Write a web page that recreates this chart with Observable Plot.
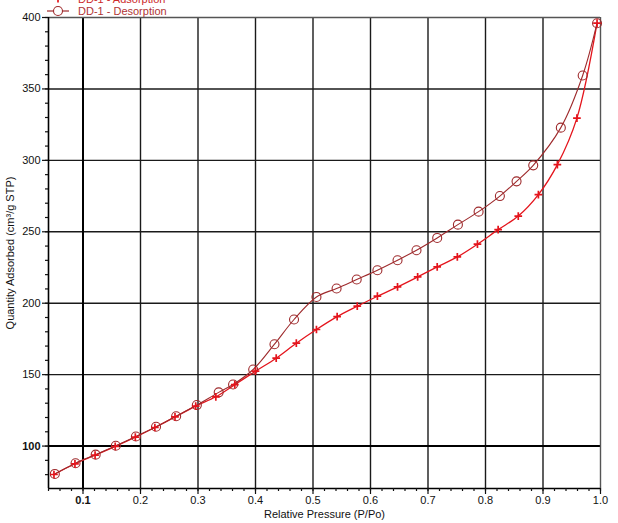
<!DOCTYPE html>
<html>
<head>
<meta charset="utf-8">
<script src="https://cdn.jsdelivr.net/npm/d3@7"></script>
<script src="https://cdn.jsdelivr.net/npm/@observablehq/plot@0.6"></script>
<style>
  html, body { margin: 0; padding: 0; background: white; }
  svg { display: block; }
</style>
</head>
<body>
<div id="chart"></div>
<script>
// Adsorption branch (red "+")
const adsX = [0.0495, 0.086, 0.121, 0.156, 0.191, 0.225, 0.260, 0.296, 0.331, 0.364, 0.400, 0.436, 0.471, 0.506, 0.542, 0.577, 0.612, 0.647, 0.682, 0.716, 0.751, 0.786, 0.822, 0.857, 0.892, 0.925, 0.959, 0.994];
const adsY = [80.1, 87.6, 93.6, 99.8, 106.3, 113.0, 120.4, 128.0, 134.5, 143.0, 152.4, 161.5, 172.0, 181.6, 190.6, 197.9, 204.9, 211.4, 218.4, 225.4, 232.4, 241.3, 251.5, 261.0, 276.0, 297.0, 329.6, 396.0];
// Desorption branch (dark red circles)
const desX = [0.051, 0.087, 0.122, 0.157, 0.192, 0.227, 0.262, 0.298, 0.336, 0.361, 0.396, 0.433, 0.467, 0.506, 0.541, 0.576, 0.612, 0.647, 0.680, 0.716, 0.752, 0.788, 0.825, 0.854, 0.883, 0.931, 0.969, 0.994];
const desY = [80.5, 88.0, 94.0, 100.2, 106.7, 113.5, 120.9, 128.7, 137.6, 143.1, 153.6, 171.3, 188.6, 204.4, 210.3, 216.6, 223.1, 230.1, 237.1, 245.7, 255.0, 264.1, 275.0, 285.3, 296.5, 322.9, 359.4, 396.0];

const xTicks = [0.1, 0.2, 0.3, 0.4, 0.5, 0.6, 0.7, 0.8, 0.9, 1.0];
const yTicks = [100, 150, 200, 250, 300, 350, 400];
const xMinor = d3.range(4, 101, 2).map(d => d / 100);
const yMinor = d3.range(80, 401, 10);
const seriesNames = ["DD-1 - Adsorption", "DD-1 - Desorption"];
const xTitle = "Relative Pressure (P/Po)";
const yTitle = "Quantity Adsorbed (cm³/g STP)";

const ads = adsX.map((x, i) => ({x, y: adsY[i]}));
const des = desX.map((x, i) => ({x, y: desY[i]}));

const adsColor = "#e4141c";
const desColor = "#9e2a2c";

const plot = Plot.plot({
  width: 618,
  height: 523,
  marginLeft: 48,
  marginRight: 18,
  marginTop: 17,
  marginBottom: 35,
  x: {domain: [0.04, 1.0]},
  y: {domain: [70.3, 400]},
  style: {fontFamily: "'Liberation Sans', Arial, sans-serif", fontSize: "11px", background: "white", color: "#111", overflow: "visible"},
  marks: [
    Plot.ruleX(xTicks.filter(d => d !== 0.1 && d < 1), {stroke: "#1a1a1a", strokeWidth: 1.4}),
    Plot.ruleY(yTicks.filter(d => d !== 100 && d < 400), {stroke: "#1a1a1a", strokeWidth: 1.4}),
    Plot.ruleX([0.1], {stroke: "#000", strokeWidth: 2}),
    Plot.ruleY([100], {stroke: "#000", strokeWidth: 2}),
    Plot.ruleY([400], {stroke: "#555", strokeWidth: 1.4}),
    Plot.ruleX([1.0], {stroke: "#555", strokeWidth: 1.4}),
    Plot.ruleX([0.04], {stroke: "#000", strokeWidth: 1.6}),
    Plot.ruleY([70.3], {stroke: "#000", strokeWidth: 1.6}),
    Plot.axisY(yMinor, {tickSize: 3, text: null, label: null, strokeWidth: 1.2}),
    Plot.axisY(yTicks.filter(d => d !== 100), {tickSize: 6, tickPadding: 2, label: null, tickFormat: d => String(d), strokeWidth: 1.2}),
    Plot.axisY([100], {tickSize: 6, tickPadding: 2, label: null, tickFormat: d => String(d), fontWeight: "bold", strokeWidth: 1.2}),
    Plot.axisX(xMinor, {tickSize: 3, text: null, label: null, strokeWidth: 1.2}),
    Plot.axisX(xTicks.filter(d => d !== 0.1), {tickSize: 6, tickPadding: 2, label: null, tickFormat: d3.format(".1f"), strokeWidth: 1.2}),
    Plot.axisX([0.1], {tickSize: 6, tickPadding: 2, label: null, tickFormat: d3.format(".1f"), fontWeight: "bold", strokeWidth: 1.2}),
    Plot.line(ads, {x: "x", y: "y", stroke: adsColor, strokeWidth: 1.3, curve: "catmull-rom"}),
    Plot.line(des, {x: "x", y: "y", stroke: desColor, strokeWidth: 1.1, curve: "catmull-rom"}),
    Plot.dot(des, {x: "x", y: "y", r: 4.5, stroke: desColor, strokeWidth: 1.1, fill: "none"}),
    Plot.dot(ads, {x: "x", y: "y", r: 2.6, symbol: "plus", stroke: adsColor, strokeWidth: 1.7}),
    Plot.text([xTitle], {frameAnchor: "bottom", dy: 29, textAnchor: "middle", fontSize: 11}),
    Plot.text([yTitle], {frameAnchor: "left", dx: -38, rotate: -90, textAnchor: "middle", fontSize: 11})
  ]
});

document.getElementById("chart").appendChild(plot);

// Legend (top-left, partly clipped at the top like the reference)
const svg = d3.select(plot);
const leg = svg.append("g")
  .attr("font-family", "'Liberation Sans', Arial, sans-serif")
  .attr("font-size", 11)
  .attr("text-anchor", "start");
const rows = [
  {name: seriesNames[0], color: adsColor, textColor: "#cc2a2a", y: -1, sym: "plus"},
  {name: seriesNames[1], color: desColor, textColor: "#b03434", y: 11, sym: "circle"}
];
rows.forEach(r => {
  leg.append("line").attr("x1", 47).attr("x2", 69).attr("y1", r.y).attr("y2", r.y)
    .attr("stroke", r.color).attr("stroke-width", 1.2);
  if (r.sym === "circle") {
    leg.append("circle").attr("cx", 58).attr("cy", r.y).attr("r", 4.5)
      .attr("fill", "white").attr("stroke", r.color).attr("stroke-width", 1.1);
  } else {
    leg.append("path").attr("d", `M54.5,${r.y}H61.5M58,${r.y - 3.5}V${r.y + 3.5}`)
      .attr("stroke", r.color).attr("stroke-width", 1.7);
  }
  leg.append("text").attr("x", 78).attr("y", r.y + 4).attr("text-anchor", "start")
    .attr("fill", r.textColor).text(r.name);
});
</script>
</body>
</html>
